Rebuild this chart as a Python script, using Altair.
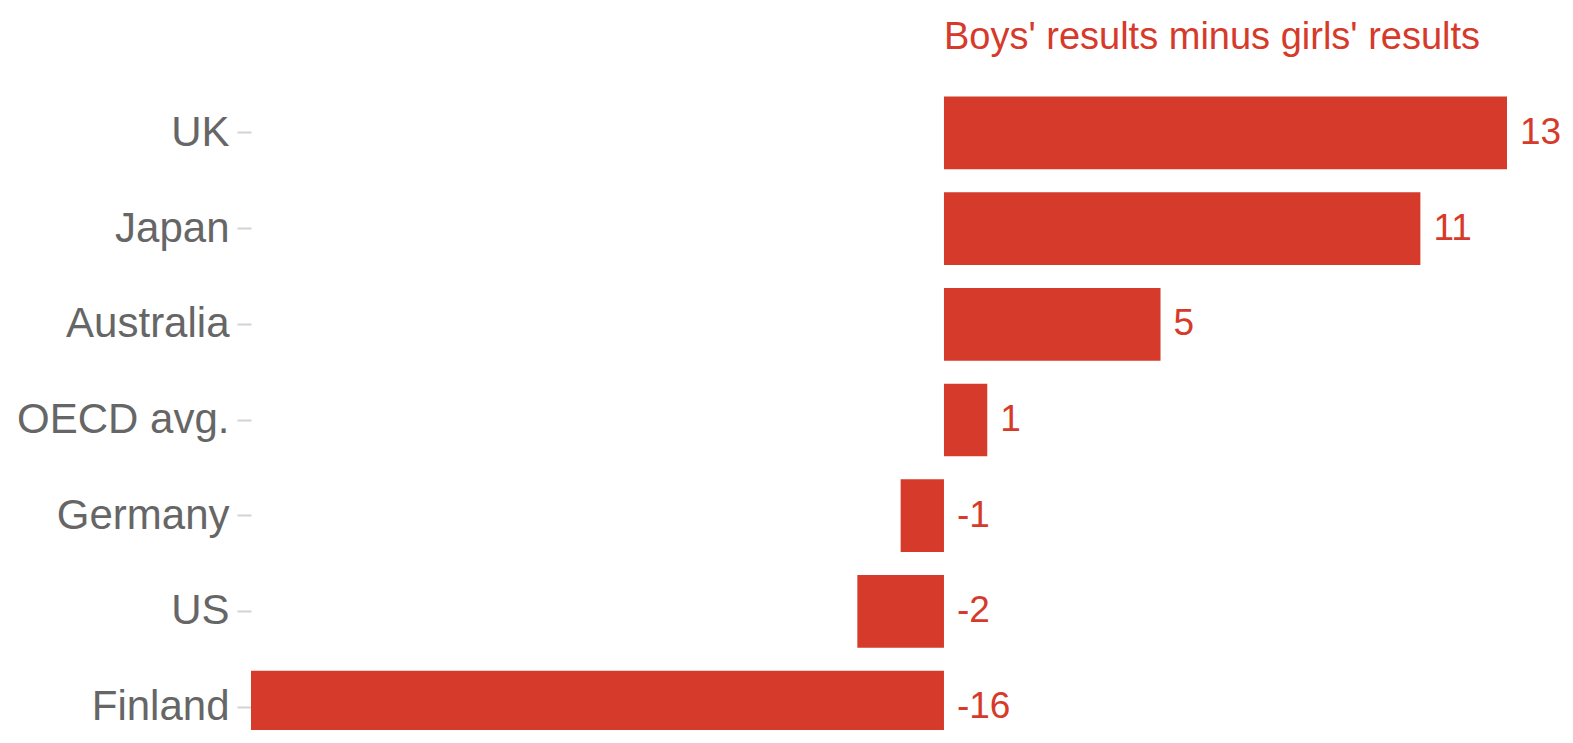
import altair as alt
import pandas as pd

countries = ["UK", "Japan", "Australia", "OECD avg.", "Germany", "US", "Finland"]
values = [13, 11, 5, 1, -1, -2, -16]
title_text = "Boys' results minus girls' results"

df = pd.DataFrame({"country": countries, "value": values})
df["label_x"] = df["value"].clip(lower=0)
df["label"] = df["value"].astype(str)

FONT = "Liberation Sans, Arial, Helvetica, sans-serif"
RED = "#d63a2a"

y_scale = alt.Scale(paddingInner=0.24, paddingOuter=0.12, range=[0, 670])
y_enc = alt.Y("country:N", sort=countries, scale=y_scale,
              axis=alt.Axis(title=None, domain=False, ticks=True, tickColor="#d3d3d3",
                            tickSize=14, tickWidth=2, labelFont=FONT, labelFontSize=42,
                            labelColor="#666666", labelPadding=8, labelLimit=0, grid=False))
x_scale = alt.Scale(domain=[-16, 13], nice=False, zero=True)

bars = alt.Chart(df).mark_bar(color=RED).encode(
    x=alt.X("value:Q", scale=x_scale, axis=None),
    x2=alt.datum(0),
    y=y_enc,
)

labels = alt.Chart(df).mark_text(align="left", baseline="middle", dx=13,
                                 font=FONT, fontSize=37, color=RED).encode(
    x=alt.X("label_x:Q", scale=x_scale),
    y=alt.Y("country:N", sort=countries),
    text="label:N",
)

title_df = pd.DataFrame({"x": [0], "t": [title_text]})
title = alt.Chart(title_df).mark_text(align="left", baseline="alphabetic", font=FONT,
                                      fontSize=38, color=RED).encode(
    x=alt.X("x:Q", scale=x_scale),
    y=alt.value(-36),
    text="t:N",
)

chart = alt.layer(bars, labels, title).properties(
    width=1256, height=645,
    background="white",
    autosize=alt.AutoSizeParams(type="none"),
    padding={"left": 243, "top": 77, "right": 55, "bottom": 0},
).configure_view(strokeWidth=0)

chart.save("out.html", embed_options={"renderer": "svg", "actions": False})
